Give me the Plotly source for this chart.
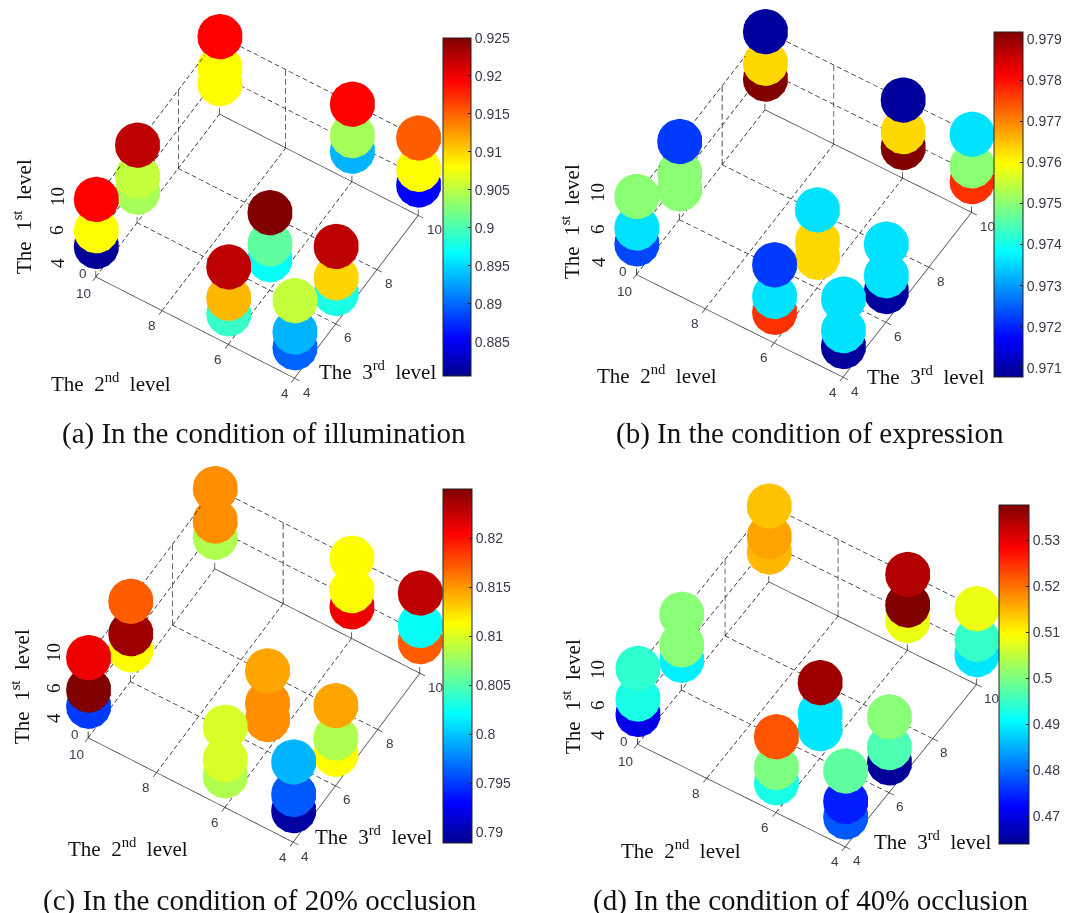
import math
import plotly.graph_objects as go

level_2 = [10, 6, 4]
level_3 = [4, 6, 10]
level_1 = [4, 6, 10]
# rows: level_2, then level_3, then level_1
acc_a = [.8809,.9081,.9194, .9041,.9054,.9223, .9081,.9081,.9194,
         .8992,.9112,.9223, .8970,.9010,.9250, .8934,.9041,.9194,
         .8898,.8934,.9054, .8979,.9099,.9223, .8854,.9081,.9152]
acc_b = [.9723,.9736,.9750, .9750,.9750,.9722, .9792,.9763,.9709,
         .9777,.9736,.9722, .9763,.9763,.9736, .9792,.9763,.9709,
         .9709,.9736,.9736, .9709,.9736,.9736, .9777,.9750,.9736]
acc_c = [.7950,.8250,.8210, .8113,.8239,.8171, .8084,.8153,.8153,
         .8084,.8098,.8098, .8153,.8153,.8145, .8210,.8113,.8113,
         .7896,.7961,.7994, .8113,.8084,.8145, .8171,.8023,.8228]
acc_d = [.4706,.4927,.4942, .4898,.5008,.5008, .5148,.5163,.5140,
         .4927,.5001,.5221, .4890,.4890,.5354, .5082,.5376,.5339,
         .4787,.4743,.4979, .4647,.4964,.5008, .4890,.4949,.5082]

ticks_a = [.885,.89,.895,.9,.905,.91,.915,.92,.925]
ticks_b = [.971,.972,.973,.974,.975,.976,.977,.978,.979]
ticks_c = [.79,.795,.8,.805,.81,.815,.82]
ticks_d = [.47,.48,.49,.5,.51,.52,.53]
labels_a = ["0.885","0.89","0.895","0.9","0.905","0.91","0.915","0.92","0.925"]
labels_b = ["0.971","0.972","0.973","0.974","0.975","0.976","0.977","0.978","0.979"]
labels_c = ["0.79","0.795","0.8","0.805","0.81","0.815","0.82"]
labels_d = ["0.47","0.48","0.49","0.5","0.51","0.52","0.53"]

captions = ["(a) In the condition of illumination", "(b) In the condition of expression",
            "(c) In the condition of 20% occlusion", "(d) In the condition of 40% occlusion"]

W, H = 1072, 913
HALF = 200
MARKER = 26.3
SCALE = 1.56
JET = [[0, "rgb(0,0,143)"], [.111, "rgb(0,0,255)"], [.365, "rgb(0,255,255)"],
       [.619, "rgb(255,255,0)"], [.873, "rgb(255,0,0)"], [1, "rgb(128,0,0)"]]
AXC = "#444444"
TXT = "#3a3a4a"
SERIF = "Liberation Serif"
SANS = "Liberation Sans"

panels = [
    dict(v=acc_a, cmin=.8805, cmax=.925, tv=ticks_a, tt=labels_a, c=(257, 207), bar=(443, 38, 28, 338), el=55, th=31.9,
         t2=(111, 382), t3=(377, 370), t1=(22, 217), zl=[(57, 263), (56, 230), (57, 197)], cap=(264, 433), z=.525, k=1.0),
    dict(v=acc_b, cmin=.97078, cmax=.97917, tv=ticks_b, tt=labels_b, c=(804, 204), bar=(994, 32, 29, 345), el=52.9, th=31.9,
         t2=(657, 374), t3=(925, 375), t1=(571, 222), zl=[(598, 262), (598, 229), (598, 193)], cap=(810, 433), z=.484, k=1.04),
    dict(v=acc_c, cmin=.7889, cmax=.825, tv=ticks_c, tt=labels_c, c=(254, 665), bar=(443, 489, 29, 354), el=55.5, th=31.7,
         t2=(128, 847), t3=(373, 835), t1=(20, 687), zl=[(53, 718), (53, 688), (53, 653)], cap=(260, 900), z=.534, k=1.03),
    dict(v=acc_d, cmin=.464, cmax=.5376, tv=ticks_d, tt=labels_d, c=(806.5, 676), bar=(999, 505, 30, 339), el=51.4, th=32.3,
         t2=(681, 849), t3=(932, 840), t1=(571, 697), zl=[(597, 735), (597, 705), (597, 670)], cap=(810, 900), z=.45, k=1.05),
]

def seg_trace(scene, segs, dashed, shift):
    xs, ys, zs = [], [], []
    def add(p0, p1):
        xs.extend([p0[0] + shift[0], p1[0] + shift[0], None])
        ys.extend([p0[1] + shift[1], p1[1] + shift[1], None])
        zs.extend([p0[2] + shift[2], p1[2] + shift[2], None])
    for (a, b) in segs:
        if not dashed:
            add(a, b)
            continue
        vertical = a[2] != b[2]
        on, off = (.75, .40) if vertical else (.13, .08)
        length = max(abs(b[j] - a[j]) for j in range(3))
        s = 0.0
        while s < length:
            e = min(s + on, length)
            add([a[j] + (b[j] - a[j]) * s / length for j in range(3)],
                [a[j] + (b[j] - a[j]) * e / length for j in range(3)])
            s += on + off
    return go.Scatter3d(x=xs, y=ys, z=zs, mode="lines", scene=scene, showlegend=False, hoverinfo="skip",
                        line=dict(color="#111111" if dashed else AXC, width=1.3 if dashed else 1.5))

fig = go.Figure()
annos = []
def pa(x, y, text, size, font=SERIF, angle=0, color="#111111"):
    annos.append(dict(xref="paper", yref="paper", x=x / W, y=1 - y / H, text=text, showarrow=False,
                      font=dict(family=font, size=size, color=color), textangle=angle,
                      xanchor="center", yanchor="middle"))

ai = [4, 6, 8, 10]
for i, p in enumerate(panels):
    sc = "scene" if i == 0 else f"scene{i+1}"
    el, th = math.radians(p["el"]), math.radians(p["th"])
    e = (-math.cos(th) * math.cos(el), -math.sin(th) * math.cos(el), math.sin(el))
    # lines are slid straight away from the viewer so the discs always cover them
    zratio = p["z"] * 8 / 12
    D = 1.5
    shift = (-e[0] * D, -e[1] * D, -e[2] * D / zratio)

    dashed = [((4, 10, 0), (10, 10, 0))]
    for t in [6, 8]:
        dashed.append(((t, 4, 0), (t, 10, 0)))
        dashed.append(((4, t, 0), (10, t, 0)))
    for zz in [5, 10]:
        dashed.append(((4, 10, zz), (10, 10, zz)))
        dashed.append(((10, 4, zz), (10, 10, zz)))
    for t in [4, 6, 8, 10]:
        dashed.append(((t, 10, 0), (t, 10, 10)))
        dashed.append(((10, t, 0), (10, t, 10)))
    solid = [((4, 4, 0), (4, 10, 0)), ((4, 4, 0), (10, 4, 0)), ((10, 4, 0), (10, 10, 0))]
    for t in ai:
        solid.append(((3.85, t, 0), (4.0, t, 0)))
        solid.append(((t, 3.85, 0), (t, 4.0, 0)))
    fig.add_trace(seg_trace(sc, dashed, True, shift))
    fig.add_trace(seg_trace(sc, solid, False, shift))
    xs, ys, zs, cs = [], [], [], []
    n = 0
    for l2 in level_2:
        for l3 in level_3:
            for l1 in level_1:
                xs.append(l3); ys.append(l2); zs.append(l1); cs.append(p["v"][n]); n += 1
    bx, by, bw, bh = p["bar"]
    fig.add_trace(go.Scatter3d(x=xs, y=ys, z=zs, mode="markers", scene=sc, showlegend=False, hoverinfo="skip",
        marker=dict(size=MARKER, color=cs, cmin=p["cmin"], cmax=p["cmax"], colorscale=JET, opacity=1, symbol="circle",
                    line=dict(width=0),
                    colorbar=dict(x=bx / W, xanchor="left", xpad=0, y=1 - by / H, yanchor="top", ypad=0,
                                  thicknessmode="pixels", thickness=bw, lenmode="pixels", len=bh,
                                  tickvals=p["tv"], ticktext=p["tt"], ticks="inside", ticklen=3, tickcolor="#222",
                                  tickfont=dict(family=SANS, size=14, color=TXT),
                                  outlinecolor="#222", outlinewidth=1, borderwidth=0))))
    cx, cy = p["c"]
    sa = []
    def lab(x, y, z, t, dx, dy):
        sa.append(dict(x=x, y=y, z=z, text=t, showarrow=False, xshift=dx, yshift=-dy,
                       font=dict(family=SANS, size=13.5, color=TXT)))
    for t in ai:
        lab(4, t, 0, str(t), -12 if t == 10 else -10, 17 if t == 10 else 15)   # 2nd-level ticks
        lab(t, 4, 0, str(t), 16 if t == 10 else 12, 14)    # 3rd-level ticks
    lab(4, 10, 0, "0", -13, -3)
    rng = dict(visible=False, showspikes=False)
    s = SCALE * p["k"]
    layout_scene = dict(
        domain=dict(x=[(cx - HALF) / W, (cx + HALF) / W], y=[1 - (cy + HALF) / H, 1 - (cy - HALF) / H]),
        xaxis=dict(range=[-1, 15], **rng), yaxis=dict(range=[-1, 15], **rng), zaxis=dict(range=[-19, 29], **rng),
        aspectmode="manual", aspectratio=dict(x=2 * s, y=2 * s, z=4 * p["z"] * s),
        camera=dict(eye=dict(x=e[0] * 2, y=e[1] * 2, z=e[2] * 2), up=dict(x=0, y=0, z=1),
                    center=dict(x=0, y=0, z=0), projection=dict(type="orthographic")),
        bgcolor="rgba(0,0,0,0)", annotations=sa, dragmode=False)
    fig.update_layout({sc: layout_scene})
    pa(*p["t2"], "The  2<sup>nd</sup>  level", 21)
    pa(*p["t3"], "The  3<sup>rd</sup>  level", 21)
    pa(*p["t1"], "The  1<sup>st</sup>  level", 21, angle=-90)
    for (zx, zy), t in zip(p["zl"], level_1):
        pa(zx, zy, str(t), 19, angle=-90)
    pa(*p["cap"], captions[i], 29)

fig.update_layout(width=W, height=H, margin=dict(l=0, r=0, t=0, b=0), paper_bgcolor="white",
                  annotations=annos, showlegend=False)
fig.write_html("out.html", post_script="document.body.style.margin='0';document.body.style.overflow='hidden';",
               config=dict(displayModeBar=False))
